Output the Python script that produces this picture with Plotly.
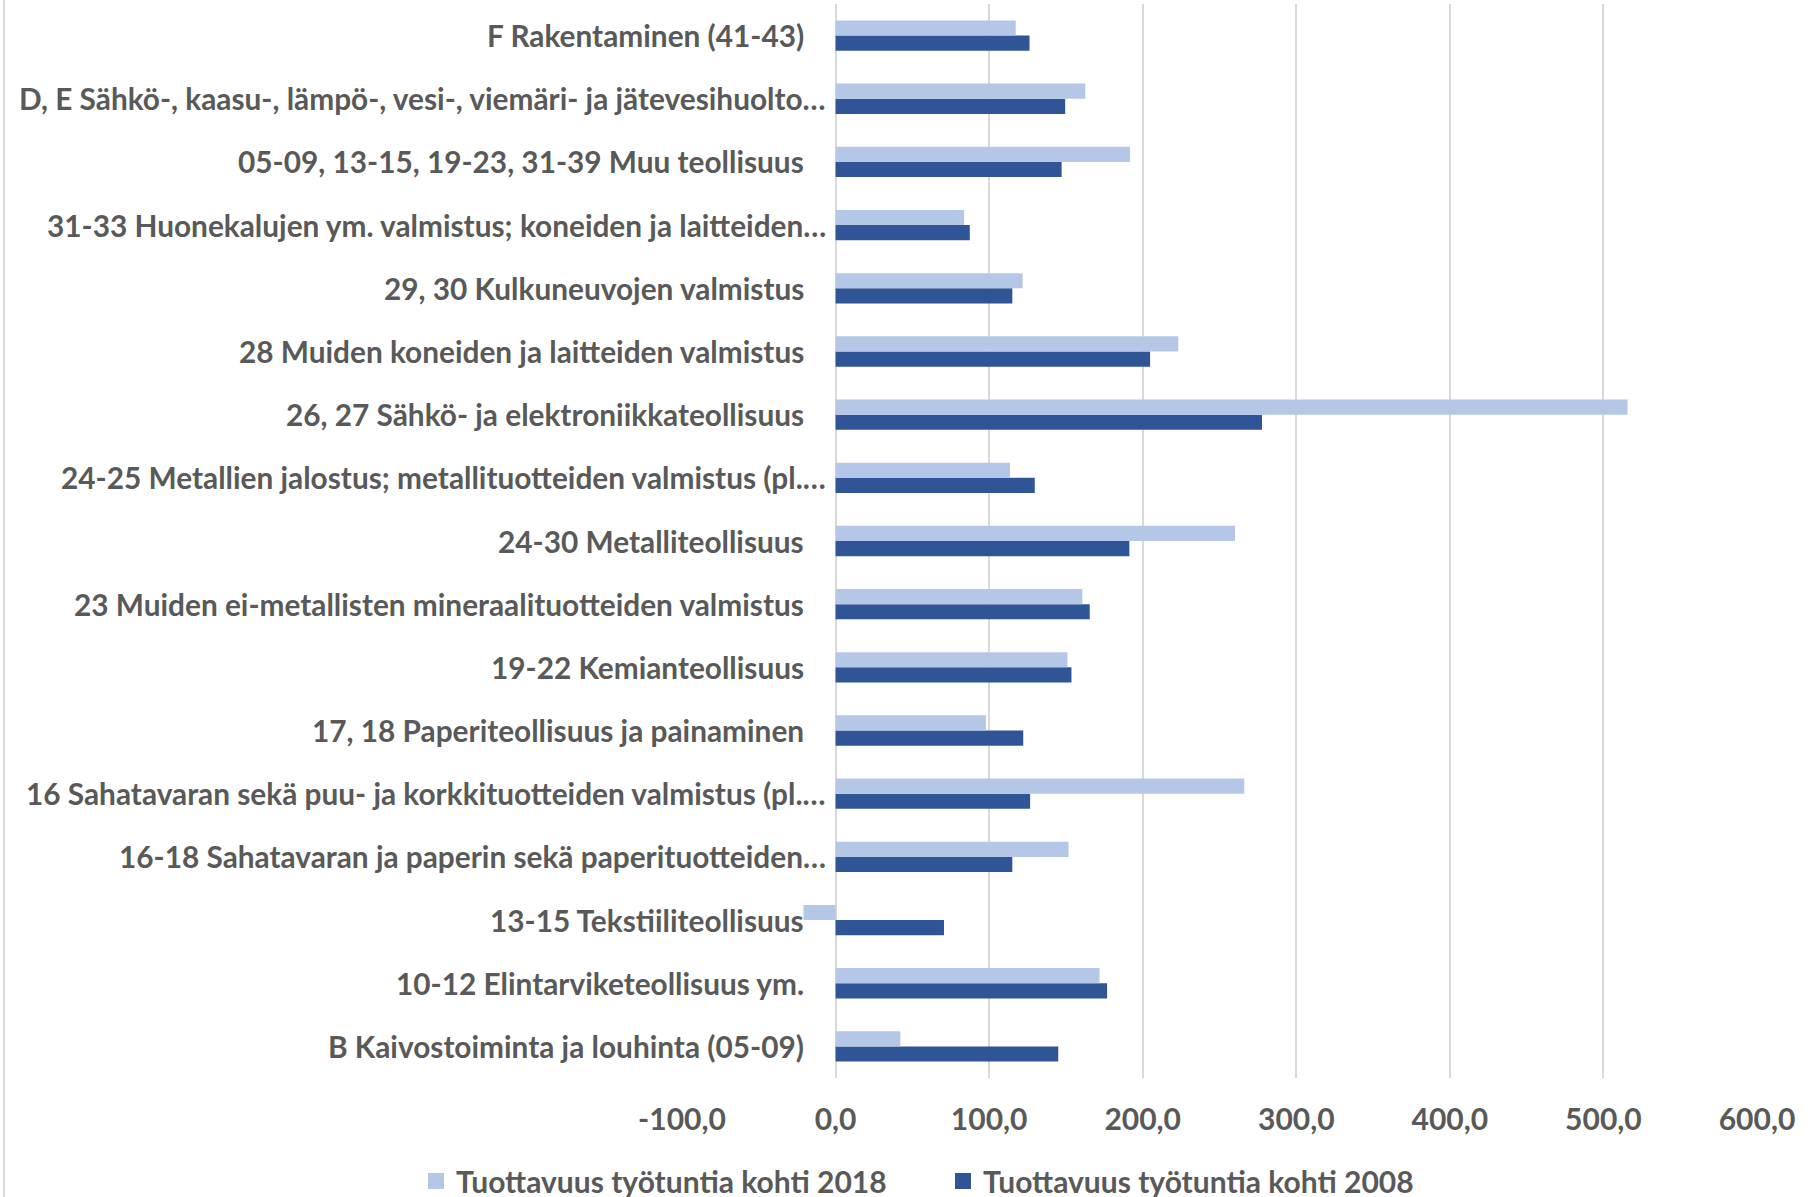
import plotly.graph_objects as go

categories = [
    "B Kaivostoiminta ja louhinta (05-09)",
    "10-12 Elintarviketeollisuus ym.",
    "13-15 Tekstiiliteollisuus",
    "16-18 Sahatavaran ja paperin sekä paperituotteiden…",
    "16 Sahatavaran sekä puu- ja korkkituotteiden valmistus (pl.…",
    "17, 18 Paperiteollisuus ja painaminen",
    "19-22 Kemianteollisuus",
    "23 Muiden ei-metallisten mineraalituotteiden valmistus",
    "24-30 Metalliteollisuus",
    "24-25 Metallien jalostus; metallituotteiden valmistus (pl.…",
    "26, 27 Sähkö- ja elektroniikkateollisuus",
    "28 Muiden koneiden ja laitteiden valmistus",
    "29, 30 Kulkuneuvojen valmistus",
    "31-33 Huonekalujen ym. valmistus; koneiden ja laitteiden…",
    "05-09, 13-15, 19-23, 31-39 Muu teollisuus",
    "D, E Sähkö-, kaasu-, lämpö-, vesi-, viemäri- ja jätevesihuolto…",
    "F Rakentaminen (41-43)",
]

values_2018 = [42.2, 171.9, -20.9, 151.7, 266.1, 97.9, 151.0, 160.7, 260.1,
               113.6, 515.7, 223.1, 121.8, 83.7, 191.7, 162.6, 117.3]
values_2008 = [145.0, 176.8, 70.6, 115.1, 126.7, 122.2, 153.6, 165.5, 191.3,
               129.7, 277.7, 204.8, 115.1, 87.4, 147.2, 149.5, 126.3]

tick_values = [-100, 0, 100, 200, 300, 400, 500, 600]
tick_labels = [f"{v:.1f}".replace(".", ",") for v in tick_values]

name_2018 = "Tuottavuus työtuntia kohti 2018"
name_2008 = "Tuottavuus työtuntia kohti 2008"

FONT = "Lato, sans-serif"
TEXT_COLOR = "#595959"
LIGHT = "#B4C7E7"
DARK = "#2F5597"
LABEL_SIZE = 29.8

W, H = 1815, 1197
L, R, T, B = 682, 58, 4, 119
plot_h = H - T - B
plot_w = W - L - R

fig = go.Figure()
fig.add_trace(go.Bar(y=categories, x=values_2008, name=name_2008, orientation="h",
                     marker=dict(color=DARK, line=dict(width=0)), showlegend=False))
fig.add_trace(go.Bar(y=categories, x=values_2018, name=name_2018, orientation="h",
                     marker=dict(color=LIGHT, line=dict(width=0)), showlegend=False))
# legend entries with square swatches
fig.add_trace(go.Scatter(x=[None], y=[None], mode="markers", name=name_2018,
                         marker=dict(symbol="square", size=16, color=LIGHT)))
fig.add_trace(go.Scatter(x=[None], y=[None], mode="markers", name=name_2008,
                         marker=dict(symbol="square", size=16, color=DARK)))

annotations = []
for c in categories:
    shift = -8 if c.endswith("…") else -30
    annotations.append(dict(
        x=0, y=c, xref="x", yref="y", text=c, showarrow=False,
        xanchor="right", yanchor="middle", xshift=shift,
        font=dict(family=FONT, size=LABEL_SIZE, color=TEXT_COLOR, weight="bold"),
    ))

fig.update_layout(
    width=W, height=H,
    margin=dict(l=L, r=R, t=T, b=B, autoexpand=False),
    paper_bgcolor="white", plot_bgcolor="white",
    barmode="group", bargap=0.52, bargroupgap=0,
    font=dict(family=FONT, color=TEXT_COLOR, size=30, weight="bold"),
    xaxis=dict(
        range=[-100, 600], tickvals=tick_values, ticktext=tick_labels,
        showgrid=True, gridcolor="#D9D9D9", gridwidth=2,
        zeroline=True, zerolinecolor="#D9D9D9", zerolinewidth=2,
        showline=False, ticks="outside", ticklen=15, tickcolor="rgba(0,0,0,0)",
        tickfont=dict(family=FONT, size=30, color=TEXT_COLOR, weight="bold"),
        fixedrange=True,
    ),
    yaxis=dict(
        type="category",
        showticklabels=False, showgrid=False, zeroline=False, showline=False,
        categoryorder="array", categoryarray=categories,
        range=[-0.5, len(categories) - 0.5],
    ),
    legend=dict(
        orientation="h", traceorder="normal",
        x=(416 - L) / plot_w, xanchor="left",
        y=(T + plot_h - 1181) / plot_h, yanchor="middle",
        entrywidth=482, entrywidthmode="pixels",
        font=dict(family=FONT, size=30, color=TEXT_COLOR, weight="bold"),
        bgcolor="rgba(0,0,0,0)",
    ),
    annotations=annotations,
    shapes=[dict(type="line", xref="paper", yref="paper",
                 x0=(4 - L) / plot_w, x1=(4 - L) / plot_w,
                 y0=-(B + 5) / plot_h, y1=(plot_h + T + 5) / plot_h,
                 line=dict(color="#D9D9D9", width=2))],
)

fig.write_html("out.html", config={"displayModeBar": False},
               post_script="document.body.style.margin='0';")
